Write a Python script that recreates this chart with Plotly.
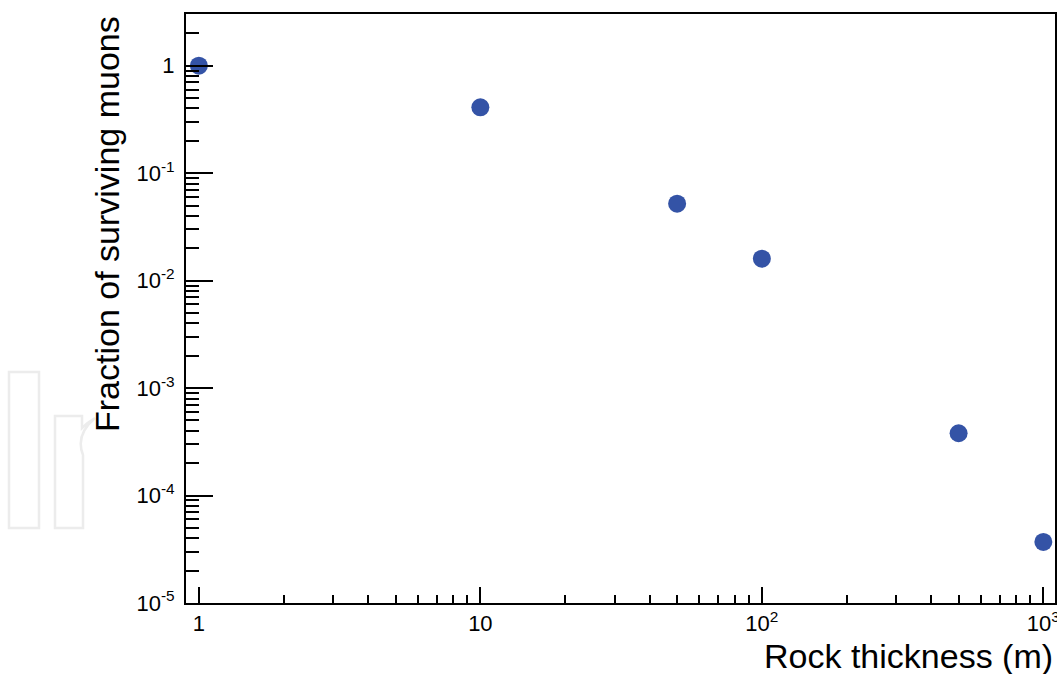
import plotly.graph_objects as go
import math

thickness_m = [1, 10, 50, 100, 500, 1000]
fraction_surviving = [1.0, 0.41, 0.052, 0.016, 3.8e-4, 3.7e-5]

x_tickvals = [1, 10, 100, 1000]
x_ticktext = ["1", "10", "10<sup>2</sup>", "10<sup>3</sup>"]
y_tickvals = [1e-5, 1e-4, 1e-3, 1e-2, 1e-1, 1]
y_ticktext = ["10<sup>-5</sup>", "10<sup>-4</sup>", "10<sup>-3</sup>", "10<sup>-2</sup>", "10<sup>-1</sup>", "1"]

FONT = "Liberation Sans, Arial, sans-serif"

W, H = 1057, 674
# plot-area edges in screen pixels
SL, SR, ST, SB = 186, 1055, 14, 603
L, T = SL, ST
R = W - SR
B = H - SB
pw = W - L - R
ph = H - T - B

def px(xs):
    return (xs - L) / pw

def py(ys):
    return 1 - (ys - T) / ph

fig = go.Figure()
fig.add_trace(go.Scatter(
    x=thickness_m, y=fraction_surviving, mode="markers",
    marker=dict(color="#3453a6", size=18, line=dict(width=0)),
    showlegend=False, cliponaxis=False,
))

axis_common = dict(
    showgrid=False, zeroline=False, showline=True, linecolor="black", linewidth=2,
    mirror=True, ticks="inside", tickcolor="black", tickwidth=2,
    tickfont=dict(family=FONT, size=22, color="black"),
    ticklabeloverflow="allow", automargin=False,
)

fig.update_xaxes(
    type="log", range=[math.log10(0.9), math.log10(1100)],
    tickvals=x_tickvals, ticktext=x_ticktext, ticklen=16,
    minor=dict(ticks="inside", ticklen=8, tickwidth=2, tickcolor="black", dtick="D1", showgrid=False),
    **axis_common,
)
fig.update_yaxes(
    type="log", range=[-5, math.log10(3.03)],
    tickvals=y_tickvals, ticktext=y_ticktext, ticklen=27, ticklabelstandoff=5,
    minor=dict(ticks="inside", ticklen=13, tickwidth=2, tickcolor="black", dtick="D1", showgrid=False),
    **axis_common,
)

# Watermark (light outlined "Ir")
wm = dict(color="#ececec", width=2.5)
fig.add_shape(type="rect", xref="paper", yref="paper",
              x0=px(9), x1=px(39), y0=py(528), y1=py(372), line=wm, layer="below")
fig.add_shape(type="path", xref="paper", yref="paper",
              path=f"M {px(55)},{py(528)} L {px(55)},{py(416)} L {px(82)},{py(416)} L {px(82)},{py(428)} "
                   f"Q {px(88)},{py(422)} {px(95)},{py(418)} Q {px(75)},{py(435)} {px(83)},{py(455)} "
                   f"L {px(83)},{py(528)} Z",
              line=wm, layer="below")

fig.add_annotation(text="Rock thickness (m)", xref="paper", yref="paper",
                   x=1.0, y=py(677), xanchor="right", yanchor="bottom", showarrow=False,
                   font=dict(family=FONT, size=34, color="black"))
fig.add_annotation(text="Fraction of surviving muons", xref="paper", yref="paper",
                   x=px(86), y=py(14), xanchor="left", yanchor="top", textangle=-90, showarrow=False,
                   font=dict(family=FONT, size=34, color="black"))

fig.update_layout(
    width=W, height=H, margin=dict(l=L, r=R, t=T, b=B, pad=0, autoexpand=False),
    paper_bgcolor="white", plot_bgcolor="white",
)
fig.write_html(
    "out.html",
    config={"displayModeBar": False, "responsive": False},
    post_script="document.body.style.margin='0';document.body.style.overflow='hidden';",
)
